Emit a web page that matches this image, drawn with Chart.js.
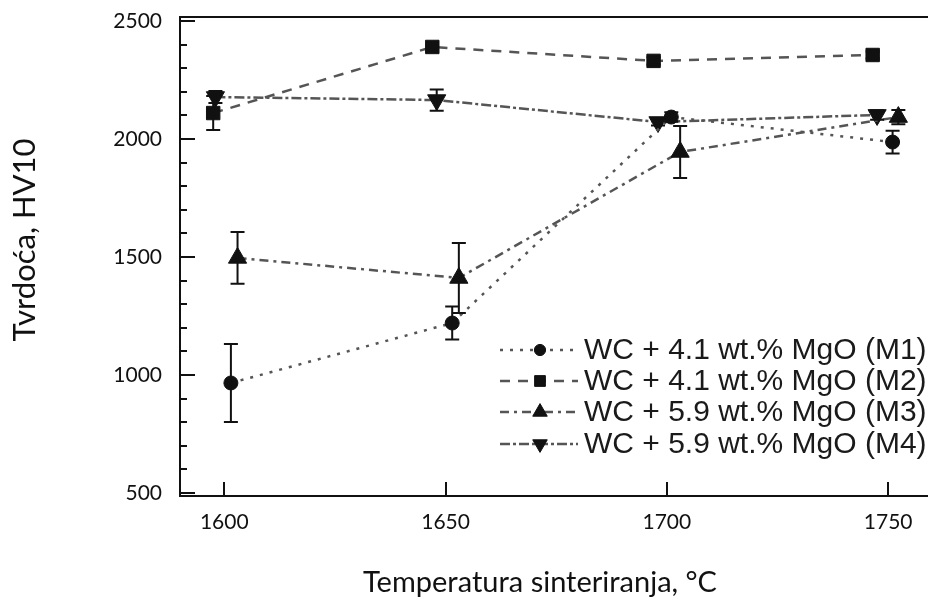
<!DOCTYPE html>
<html>
<head>
<meta charset="utf-8">
<script src="https://cdn.jsdelivr.net/npm/chart.js@4.4.1/dist/chart.umd.min.js"></script>
<style>
  html, body { margin: 0; padding: 0; background: #ffffff; }
  canvas { display: block; }
</style>
</head>
<body>
<canvas id="hardnessChart" width="928" height="604"></canvas>
<script>
// --- data ---
const seriesLabels = [
    "WC + 4.1 wt.% MgO (M1)",
    "WC + 4.1 wt.% MgO (M2)",
    "WC + 5.9 wt.% MgO (M3)",
    "WC + 5.9 wt.% MgO (M4)"
];

// points are drawn slightly shifted left/right of each temperature in the original
const tempM1 = [1601.5, 1651.5, 1701, 1751];
const tempM2 = [1597.5, 1647, 1697, 1746.5];
const tempM3 = [1603, 1653, 1703, 1752.3];
const tempM4 = [1598, 1648, 1698, 1747.5];

const hvM1 = [966, 1220, 2093, 1987];
const hvM2 = [2110, 2390, 2331, 2356];
const hvM3 = [1496, 1411, 1945, 2093];
const hvM4 = [2178, 2165, 2072, 2102];

const errM1 = [165, 70, 20, 48];
const errM2 = [72, 0, 15, 15];
const errM3 = [110, 148, 110, 30];
const errM4 = [25, 45, 15, 20];

const xTicks = [1600, 1650, 1700, 1750];
const yTicks = [500, 1000, 1500, 2000, 2500];
const yMinorTicks = [600, 700, 800, 900, 1100, 1200, 1300, 1400, 1600, 1700, 1800, 1900, 2100, 2200, 2300, 2400];

const xTitle = "Temperatura sinteriranja, °C";
const yTitle = "Tvrdoća, HV10";

// --- styles ---
const lineColor = "#555555";
const markColor = "#111111";
const tickFont = { family: "Lato, 'Open Sans', sans-serif", size: 21 };
const xTitleFont = "29px Lato, 'Open Sans', sans-serif";
const yTitleFont = "31px Lato, 'Open Sans', sans-serif";
const legendFont = "30px 'Liberation Sans', Arial, sans-serif";

function toPoints(xs, ys) {
    return xs.map((x, i) => ({ x: x, y: ys[i] }));
}

function makeSet(i, xs, ys, errs, style, dash, radius, rotation) {
    return {
        label: seriesLabels[i],
        data: toPoints(xs, ys),
        errors: errs,
        borderColor: lineColor,
        borderWidth: 2.5,
        borderDash: dash,
        pointStyle: style,
        rotation: rotation,
        pointRadius: radius,
        pointHoverRadius: radius,
        pointBackgroundColor: markColor,
        pointBorderColor: markColor,
        pointBorderWidth: 1,
        fill: false,
        tension: 0
    };
}

// keep the plot box exactly where the original has it
function noPadding(s) {
    s.paddingTop = 0;
    s.paddingBottom = 0;
    s.paddingLeft = 0;
    s.paddingRight = 0;
}

const errorBarPlugin = {
    id: "errorBars",
    afterDatasetsDraw(chart) {
        const { ctx, scales: { x, y } } = chart;
        ctx.save();
        ctx.strokeStyle = markColor;
        ctx.lineWidth = 2;
        ctx.setLineDash([]);
        chart.data.datasets.forEach(ds => {
            ds.data.forEach((p, i) => {
                const e = ds.errors[i];
                if (!e) return;
                const px = x.getPixelForValue(p.x);
                const top = y.getPixelForValue(p.y + e);
                const bot = y.getPixelForValue(p.y - e);
                ctx.beginPath();
                ctx.moveTo(px, top);
                ctx.lineTo(px, bot);
                ctx.moveTo(px - 7, top);
                ctx.lineTo(px + 7, top);
                ctx.moveTo(px - 7, bot);
                ctx.lineTo(px + 7, bot);
                ctx.stroke();
            });
        });
        ctx.restore();
    }
};

// inward tick marks + top frame line + axis titles
const framePlugin = {
    id: "frame",
    afterDraw(chart) {
        const { ctx, chartArea: a, scales: { x, y } } = chart;
        ctx.save();
        ctx.strokeStyle = "#111111";
        ctx.lineWidth = 2;
        ctx.setLineDash([]);
        ctx.beginPath();
        yTicks.forEach(v => {
            const py = Math.round(y.getPixelForValue(v));
            ctx.moveTo(a.left, py);
            ctx.lineTo(a.left + 15, py);
        });
        yMinorTicks.forEach(v => {
            const py = Math.round(y.getPixelForValue(v));
            ctx.moveTo(a.left, py);
            ctx.lineTo(a.left + 7, py);
        });
        xTicks.forEach(v => {
            const px = Math.round(x.getPixelForValue(v));
            ctx.moveTo(px, a.bottom);
            ctx.lineTo(px, a.bottom - 14);
        });
        ctx.moveTo(a.left - 1, a.top);
        ctx.lineTo(a.right, a.top);
        ctx.stroke();

        ctx.fillStyle = "#111111";
        ctx.textAlign = "center";
        ctx.textBaseline = "middle";
        ctx.font = xTitleFont;
        ctx.fillText(xTitle, 540, 583);
        ctx.font = yTitleFont;
        ctx.translate(25, 240);
        ctx.rotate(-Math.PI / 2);
        ctx.fillText(yTitle, 0, 0);
        ctx.restore();
    }
};

// legend with line sample + marker
const legendPlugin = {
    id: "sampleLegend",
    afterDraw(chart) {
        const ctx = chart.ctx;
        const rowY = [350, 381, 412, 444];
        ctx.save();
        chart.data.datasets.forEach((ds, i) => {
            const yy = rowY[i];
            ctx.strokeStyle = lineColor;
            ctx.lineWidth = 2.5;
            ctx.setLineDash(ds.borderDash);
            ctx.beginPath();
            ctx.moveTo(500, yy);
            ctx.lineTo(578, yy);
            ctx.stroke();
            ctx.setLineDash([]);
            ctx.fillStyle = markColor;
            ctx.strokeStyle = markColor;
            ctx.lineWidth = 1;
            Chart.helpers.drawPoint(ctx, {
                pointStyle: ds.pointStyle,
                rotation: ds.rotation,
                radius: ds.pointRadius * 0.8,
                borderWidth: 1
            }, 540, yy);
            ctx.fillStyle = "#1a1a1a";
            ctx.font = legendFont;
            ctx.textAlign = "left";
            ctx.textBaseline = "middle";
            ctx.fillText(ds.label, 584, yy + 1);
        });
        ctx.restore();
    }
};

function renderHardnessChart() {
    const ctx = document.getElementById("hardnessChart").getContext("2d");
    return new Chart(ctx, {
        type: "line",
        data: {
            datasets: [
                makeSet(0, tempM1, hvM1, errM1, "circle", [3, 7], 7, 0),
                makeSet(1, tempM2, hvM2, errM2, "rect", [10, 8], 9.5, 0),
                makeSet(2, tempM3, hvM3, errM3, "triangle", [9, 5, 3, 5], 10.5, 0),
                makeSet(3, tempM4, hvM4, errM4, "triangle", [10, 3, 3, 3], 10.5, 180)
            ]
        },
        options: {
            responsive: false,
            animation: false,
            devicePixelRatio: 1,
            layout: {
                autoPadding: false,
                padding: { top: 17, left: 0, right: 0, bottom: 0 }
            },
            plugins: {
                legend: { display: false },
                tooltip: { enabled: false }
            },
            scales: {
                x: {
                    type: "linear",
                    min: 1590,
                    max: 1759,
                    afterBuildTicks: s => { s.ticks = xTicks.map(v => ({ value: v })); },
                    afterFit: s => { s.height = 108; noPadding(s); },
                    grid: { display: false, drawTicks: false },
                    border: { display: true, color: "#111111", width: 2 },
                    ticks: {
                        font: tickFont,
                        color: "#111111",
                        padding: 14,
                        maxRotation: 0,
                        callback: v => String(v)
                    }
                },
                y: {
                    type: "linear",
                    min: 487,
                    max: 2517,
                    afterBuildTicks: s => { s.ticks = yTicks.map(v => ({ value: v })); },
                    afterFit: s => { s.width = 180; noPadding(s); },
                    grid: { display: false, drawTicks: false },
                    border: { display: true, color: "#111111", width: 2 },
                    ticks: {
                        font: tickFont,
                        color: "#111111",
                        padding: 18,
                        callback: v => String(v)
                    }
                }
            }
        },
        plugins: [errorBarPlugin, framePlugin, legendPlugin]
    });
}

renderHardnessChart();
</script>
</body>
</html>
